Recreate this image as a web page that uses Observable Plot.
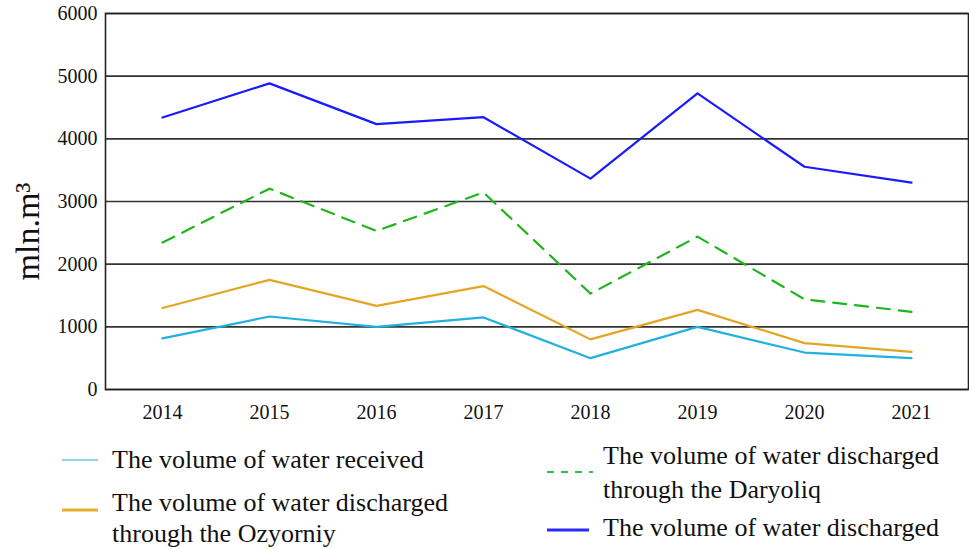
<!DOCTYPE html>
<html>
<head>
<meta charset="utf-8">
<script src="https://cdn.jsdelivr.net/npm/d3@7"></script>
<script src="https://cdn.jsdelivr.net/npm/@observablehq/plot@0.6"></script>
<style>
  html, body { margin: 0; padding: 0; background: #fff; }
  #wrap { position: relative; width: 969px; height: 549px; font-family: "Liberation Serif", "Times New Roman", serif; color: #111; }
  #chart { position: absolute; left: 0; top: 0; }
  .lg { position: absolute; font-size: 26px; line-height: 26px; white-space: nowrap; }
  .sw { position: absolute; }
</style>
</head>
<body>
<div id="wrap">
  <div id="chart"></div>
  <div id="legend"></div>
</div>
<script>
const years = ["2014", "2015", "2016", "2017", "2018", "2019", "2020", "2021"];
const received   = [815, 1165, 1000, 1150, 500, 1000, 590, 500];
const ozyorniy   = [1300, 1750, 1335, 1650, 800, 1270, 740, 600];
const daryoliq   = [2345, 3205, 2530, 3145, 1530, 2440, 1440, 1240];
const discharged = [4340, 4885, 4235, 4345, 3365, 4725, 3555, 3300];
const yTicks = [0, 1000, 2000, 3000, 4000, 5000, 6000];

const seriesNames = [
  "The volume of water received",
  "The volume of water discharged through the Ozyorniy",
  "The volume of water discharged through the Daryoliq",
  "The volume of water discharged"
];
const seriesValues = [received, ozyorniy, daryoliq, discharged];
const seriesColors = ["#22b0e0", "#e3a624", "#1fb51f", "#1a1aff"];
const seriesDash = [null, null, "13 9", null];

const rows = [];
seriesNames.forEach((name, i) => {
  years.forEach((yr, j) => rows.push({series: name, year: yr, value: seriesValues[i][j]}));
});

const lineMarks = seriesNames.map((name, i) =>
  Plot.line(rows.filter(d => d.series === name), {
    x: "year", y: "value",
    stroke: seriesColors[i], strokeWidth: 2.2,
    strokeDasharray: seriesDash[i] || undefined
  })
);

const chart = Plot.plot({
  width: 969,
  height: 425,
  marginLeft: 105,
  marginRight: 1,
  marginTop: 13,
  marginBottom: 36,
  style: {fontFamily: "Liberation Serif, Times New Roman, serif", background: "#fff", color: "#111"},
  x: {type: "point", domain: years, padding: 0.5},
  y: {domain: [0, 6000]},
  marks: [
    Plot.ruleY(yTicks, {stroke: "#333", strokeWidth: 1.6}),
    Plot.frame({stroke: "#222", strokeWidth: 1.6}),
    ...lineMarks,
    Plot.axisX({tickSize: 0, tickPadding: 15, fontSize: 20, label: null}),
    Plot.axisY({ticks: yTicks, tickSize: 0, tickPadding: 8, fontSize: 20, label: null, tickFormat: d => String(d)}),
    Plot.text(["mln.m³"], {frameAnchor: "left", textAnchor: "middle", dx: -77, dy: 30, rotate: -90, fontSize: 34, fill: "#111"})
  ]
});
document.getElementById("chart").appendChild(chart);

// Legend (HTML)
const legendLines = [
  {text: "The volume of water received", x: 112, base: 469},
  {text: "The volume of water discharged", x: 112, base: 512},
  {text: "through the Ozyorniy", x: 112, base: 543},
  {text: "The volume of water discharged", x: 603, base: 465},
  {text: "through the Daryoliq", x: 603, base: 499},
  {text: "The volume of water discharged", x: 603, base: 537}
];
const legendSwatches = [
  {x1: 62, x2: 98, y: 460, color: "#8fd5ee", width: 2, dash: null},
  {x1: 62, x2: 98, y: 510, color: "#e6ad2c", width: 3, dash: null},
  {x1: 547, x2: 593, y: 472, color: "#2ec24a", width: 2, dash: "7 7"},
  {x1: 547, x2: 589, y: 530, color: "#2a2aff", width: 3, dash: null}
];
const lg = document.getElementById("legend");
legendLines.forEach(l => {
  const d = document.createElement("div");
  d.className = "lg";
  d.style.left = l.x + "px";
  d.style.top = (l.base - 21.8) + "px";
  d.textContent = l.text;
  lg.appendChild(d);
});
legendSwatches.forEach(s => {
  const ns = "http://www.w3.org/2000/svg";
  const svg = document.createElementNS(ns, "svg");
  svg.setAttribute("class", "sw");
  svg.setAttribute("width", s.x2 - s.x1);
  svg.setAttribute("height", 8);
  svg.style.left = s.x1 + "px";
  svg.style.top = (s.y - 4) + "px";
  const ln = document.createElementNS(ns, "line");
  ln.setAttribute("x1", 0); ln.setAttribute("x2", s.x2 - s.x1);
  ln.setAttribute("y1", 4); ln.setAttribute("y2", 4);
  ln.setAttribute("stroke", s.color);
  ln.setAttribute("stroke-width", s.width);
  if (s.dash) ln.setAttribute("stroke-dasharray", s.dash);
  svg.appendChild(ln);
  lg.appendChild(svg);
});
</script>
</body>
</html>
